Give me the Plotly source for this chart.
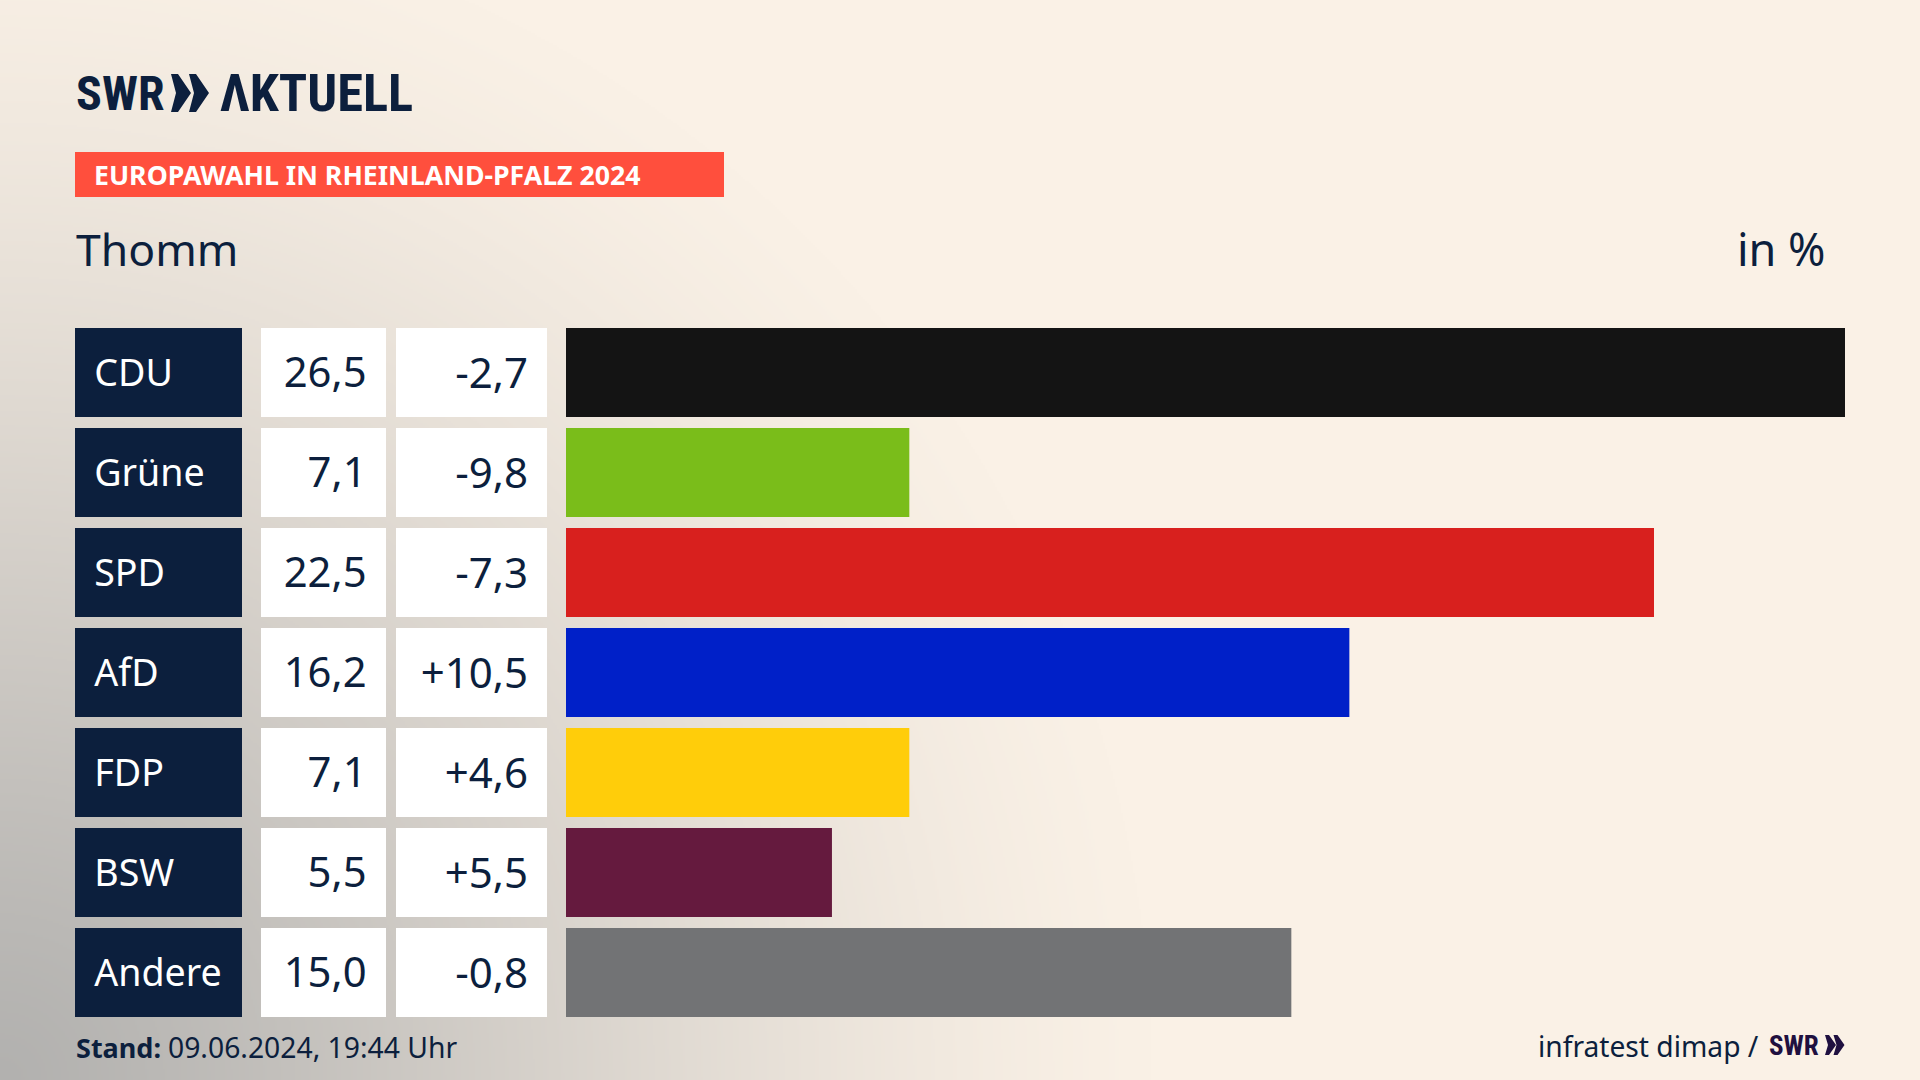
import struct, zlib, base64
import numpy as np
import plotly.graph_objects as go

parties = ["CDU", "Grüne", "SPD", "AfD", "FDP", "BSW", "Andere"]
results = [26.5, 7.1, 22.5, 16.2, 7.1, 5.5, 15.0]
changes = [-2.7, -9.8, -7.3, 10.5, 4.6, 5.5, -0.8]
bar_colors = ["#141414", "#7ABD1A", "#D8201E", "#0020C8", "#FFCD0A", "#651A3E", "#727375"]
NAVY = "#0C1F3D"
W, H = 1920, 1080
FONT = "Noto Sans"
LOGO = "Roboto Condensed"

def res_txt(v): return f"{v:.1f}".replace(".", ",")
def chg_txt(v): return f"{v:+.1f}".replace(".", ",")
def fx(p): return p / W
def fy(p): return 1 - p / H

def background():
    w, h = 960, 540
    yy, xx = np.mgrid[0:h, 0:w]
    d = np.sqrt((xx * 2 / 1150.0) ** 2 + ((H - yy * 2) / 1180.0) ** 2)
    t = np.clip(d, 0, 1) ** 0.9
    t = t * t * (3 - 2 * t) * 0.5 + t * 0.5
    c0, c1 = np.array([0xB2, 0xB1, 0xAF]), np.array([0xFA, 0xF1, 0xE6])
    img = (c0[None, None, :] * (1 - t[..., None]) + c1[None, None, :] * t[..., None]).astype(np.uint8)
    raw = b"".join(b"\x00" + img[i].tobytes() for i in range(h))
    def chunk(tag, data):
        return struct.pack(">I", len(data)) + tag + data + struct.pack(">I", zlib.crc32(tag + data) & 0xffffffff)
    png = b"\x89PNG\r\n\x1a\n" + chunk(b"IHDR", struct.pack(">IIBBBBB", w, h, 8, 2, 0, 0, 0)) + chunk(b"IDAT", zlib.compress(raw, 9)) + chunk(b"IEND", b"")
    return "data:image/png;base64," + base64.b64encode(png).decode()

fig = go.Figure()
common = dict(y=parties, orientation="h", width=0.89, hoverinfo="skip", showlegend=False)

fig.add_bar(x=[1] * 7, marker=dict(color=NAVY, line_width=0), xaxis="x", yaxis="y", **common)
fig.add_bar(x=[1] * 7, marker=dict(color="#FFFFFF", line_width=0), xaxis="x2", yaxis="y", **common)
fig.add_bar(x=[1] * 7, marker=dict(color="#FFFFFF", line_width=0), xaxis="x3", yaxis="y", **common)
fig.add_bar(x=results, marker=dict(color=bar_colors, line_width=0), xaxis="x4", yaxis="y", **common)

txt = dict(y=parties, mode="text", yaxis="y2", hoverinfo="skip", showlegend=False)
fig.add_scatter(x=[0.115] * 7, text=parties, textposition="middle right",
                textfont=dict(family=FONT, size=37.6, color="#FFFFFF"), xaxis="x", **txt)
fig.add_scatter(x=[0.845] * 7, text=[res_txt(v) for v in results], textposition="middle left",
                textfont=dict(family=FONT, size=41.8, color=NAVY), xaxis="x2", **txt)
fig.add_scatter(x=[0.875] * 7, text=[chg_txt(v) for v in changes], textposition="middle left",
                textfont=dict(family=FONT, size=42, color=NAVY), xaxis="x3", **txt)

hidden = dict(visible=False, fixedrange=True)
def dom(a, b): return [fx(a), fx(b)]

def chevrons(x0, top, bot, each, flat, notch, step):
    out = []
    mid = (top + bot) / 2
    for i in range(2):
        a = x0 + i * step
        path = (f"M {fx(a)} {fy(top)} L {fx(a + flat)} {fy(top)} L {fx(a + each)} {fy(mid)} "
                f"L {fx(a + flat)} {fy(bot)} L {fx(a)} {fy(bot)} L {fx(a + notch)} {fy(mid)} Z")
        out.append(path)
    return out

shapes = [dict(type="rect", xref="paper", yref="paper", x0=fx(75), x1=fx(724), y0=fy(197), y1=fy(152),
               fillcolor="#FF4F3D", line_width=0, layer="below")]
for p in chevrons(171, 74, 112, 20, 7, 5, 18):
    shapes.append(dict(type="path", xref="paper", yref="paper", path=p, fillcolor=NAVY, line_width=0))
for p in chevrons(1825, 1035, 1055, 11, 4, 3, 8.5):
    shapes.append(dict(type="path", xref="paper", yref="paper", path=p, fillcolor="#1F1040", line_width=0))

def note(text, x, y, size, color=NAVY, family=FONT, anchor="left", bold=False):
    return dict(text=f"<b>{text}</b>" if bold else text, x=fx(x), y=fy(y), xref="paper", yref="paper",
                xanchor=anchor, yanchor="middle", showarrow=False, borderpad=0,
                font=dict(family=family, size=size, color=color))

annotations = [
    note("SWR", 75, 93, 48, family=LOGO, bold=True),
    note("ΛKTUELL", 219, 93, 52.5, family=LOGO, bold=True),
    note("EUROPAWAHL IN RHEINLAND-PFALZ 2024", 93, 175, 26.7, "#FFFFFF", FONT, bold=True),
    note("Thomm", 75, 248, 44.5),
    note("in %", 1827, 248, 45, anchor="right"),
    note("Stand:", 75, 1047, 27, bold=True),
    note("09.06.2024, 19:44 Uhr", 167, 1047, 28.3),
    note("infratest dimap /", 1760, 1046, 28.2, anchor="right"),
    note("SWR", 1768, 1046, 27, "#1F1040", LOGO, bold=True),
]

fig.update_layout(
    width=W, height=H, margin=dict(l=0, r=0, t=0, b=0),
    paper_bgcolor="#FAF1E6", plot_bgcolor="rgba(0,0,0,0)", barmode="overlay",
    xaxis=dict(domain=dom(75, 242), range=[0, 1], anchor="y", **hidden),
    xaxis2=dict(domain=dom(261, 386), range=[0, 1], anchor="y", **hidden),
    xaxis3=dict(domain=dom(396, 547), range=[0, 1], anchor="y", **hidden),
    xaxis4=dict(domain=dom(566, 1845), range=[0, 26.45], anchor="y", **hidden),
    yaxis=dict(domain=[fy(1022.5), fy(322.5)], range=[6.5, -0.5], type="category",
               categoryorder="array", categoryarray=parties, **hidden),
    yaxis2=dict(domain=[fy(1027), fy(327)], range=[6.5, -0.5], type="category", anchor="x",
                categoryorder="array", categoryarray=parties, **hidden),
    shapes=shapes, annotations=annotations,
    images=[dict(source=background(), xref="paper", yref="paper", x=0, y=1, sizex=1, sizey=1,
                 sizing="stretch", layer="below", xanchor="left", yanchor="top")],
)
fig.write_html("out.html", config=dict(displayModeBar=False),
               post_script="document.body.style.margin='0';document.body.style.overflow='hidden';")
